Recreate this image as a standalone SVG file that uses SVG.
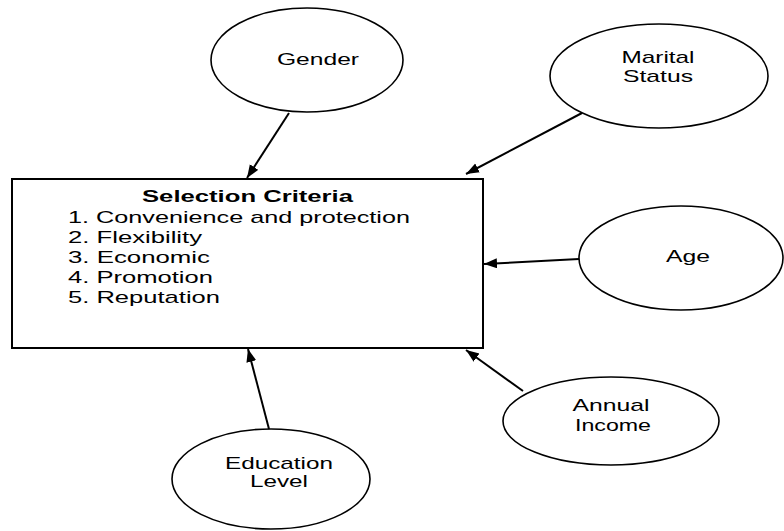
<svg xmlns="http://www.w3.org/2000/svg" width="784" height="531" viewBox="0 0 784 531">
<style>
.node{fill:#fff;stroke:#000;stroke-width:1.6}
.box{fill:#fff;stroke:#000;stroke-width:2}
.lbl{font-family:"Liberation Sans",Arial,sans-serif;font-size:17px;fill:#000}
.c{text-anchor:middle}
.b{font-weight:bold}
.conn line{stroke:#000;stroke-width:2;marker-end:url(#ah)}
</style>
<defs>
<marker id="ah" markerUnits="userSpaceOnUse" markerWidth="14" markerHeight="12" refX="13" refY="5" orient="auto">
<path d="M0,0 L13,5 L0,10 Z" fill="#000"/>
</marker>
</defs>
<rect width="784" height="531" fill="#fff"/>
<g id="selection-criteria">
<rect class="box" x="12" y="179" width="471" height="169"/>
<text class="lbl b" x="142" y="202" textLength="211" lengthAdjust="spacingAndGlyphs">Selection Criteria</text>
<text class="lbl" x="68" y="223" textLength="342" lengthAdjust="spacingAndGlyphs">1. Convenience and protection</text>
<text class="lbl" x="68" y="243" textLength="134" lengthAdjust="spacingAndGlyphs">2. Flexibility</text>
<text class="lbl" x="68" y="263" textLength="142" lengthAdjust="spacingAndGlyphs">3. Economic</text>
<text class="lbl" x="68" y="283" textLength="145" lengthAdjust="spacingAndGlyphs">4. Promotion</text>
<text class="lbl" x="68" y="303" textLength="152" lengthAdjust="spacingAndGlyphs">5. Reputation</text>
</g>
<g id="gender">
<ellipse class="node" cx="307" cy="60" rx="96" ry="52"/>
<text class="lbl c" x="318" y="65" textLength="82" lengthAdjust="spacingAndGlyphs">Gender</text>
</g>
<g id="marital-status">
<ellipse class="node" cx="659" cy="76" rx="109" ry="52"/>
<text class="lbl c" x="658" y="63" textLength="73" lengthAdjust="spacingAndGlyphs">Marital</text>
<text class="lbl c" x="658" y="82" textLength="70" lengthAdjust="spacingAndGlyphs">Status</text>
</g>
<g id="age">
<ellipse class="node" cx="681" cy="258" rx="102" ry="52"/>
<text class="lbl c" x="688" y="262" textLength="44" lengthAdjust="spacingAndGlyphs">Age</text>
</g>
<g id="annual-income">
<ellipse class="node" cx="611" cy="421" rx="108" ry="44"/>
<text class="lbl c" x="611" y="411" textLength="77" lengthAdjust="spacingAndGlyphs">Annual</text>
<text class="lbl c" x="613" y="431" textLength="76" lengthAdjust="spacingAndGlyphs">Income</text>
</g>
<g id="education-level">
<ellipse class="node" cx="271" cy="479" rx="99" ry="50"/>
<text class="lbl c" x="279" y="469" textLength="108" lengthAdjust="spacingAndGlyphs">Education</text>
<text class="lbl c" x="279" y="487" textLength="58" lengthAdjust="spacingAndGlyphs">Level</text>
</g>
<g id="connectors" class="conn">
<line x1="289" y1="113" x2="247" y2="178"/>
<line x1="582" y1="113" x2="466" y2="174"/>
<line x1="579" y1="259" x2="484" y2="264"/>
<line x1="523" y1="391" x2="466" y2="350"/>
<line x1="269" y1="429" x2="248" y2="349"/>
</g>
</svg>
